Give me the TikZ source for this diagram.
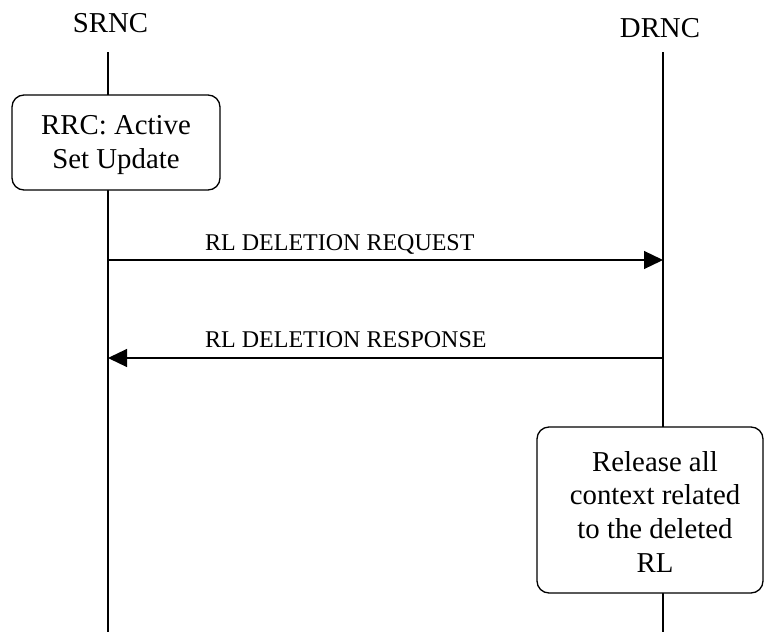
\documentclass[tikz,border=0pt]{standalone}
\usepackage{fontspec}
\setmainfont{Liberation Serif}
\usetikzlibrary{arrows.meta}
\tikzset{
  title/.style={font={\fontsize{28.8}{33.7}\selectfont}, inner sep=0pt, anchor=base},
  lifeline/.style={line width=1.6pt},
  procbox/.style={draw, line width=1.3pt, fill=white, rounded corners=12pt, inner sep=0pt},
  boxtext/.style={font={\fontsize{28.8}{33.7}\selectfont}, align=center, inner sep=0pt},
  msg/.style={line width=1.2pt, -{Triangle[length=19pt,width=18pt]}},
  msglabel/.style={font={\fontsize{24}{28}\selectfont}, inner sep=0pt, anchor=base west}
}
\begin{document}
\begin{tikzpicture}[x=1pt,y=-1pt]
\useasboundingbox (0,0) rectangle (764,632);
% headers
\node[title] (srnc) at (110.5,32) {SRNC};
\node[title] (drnc) at (660,37) {DRNC};
% lifelines
\coordinate (stop) at (108,52);
\coordinate (sbot) at (108,632);
\coordinate (dtop) at (663,52);
\coordinate (dbot) at (663,632);
\draw[lifeline] (stop) -- (sbot);
\draw[lifeline] (dtop) -- (dbot);
% box 1
\node[procbox, minimum width=208pt, minimum height=95pt] (b1) at (116,142.5) {};
\node[boxtext] (b1t) at (116,145) {RRC: Active\\Set Update};
% messages
\coordinate (s1) at (108,260);
\coordinate (d1) at (663,260);
\coordinate (s2) at (108,358);
\coordinate (d2) at (663,358);
\draw[msg] (s1) -- (d1);
\node[msglabel] (l1) at (205,250) {RL DELETION REQUEST};
\draw[msg] (d2) -- (s2);
\node[msglabel] (l2) at (205,347) {RL DELETION RESPONSE};
% box 2
\node[procbox, minimum width=226pt, minimum height=166pt] (b2) at (650,510) {};
\node[boxtext] (b2t) at (655,511.7) {Release all\\context related\\to the deleted\\RL};
\end{tikzpicture}
\end{document}
